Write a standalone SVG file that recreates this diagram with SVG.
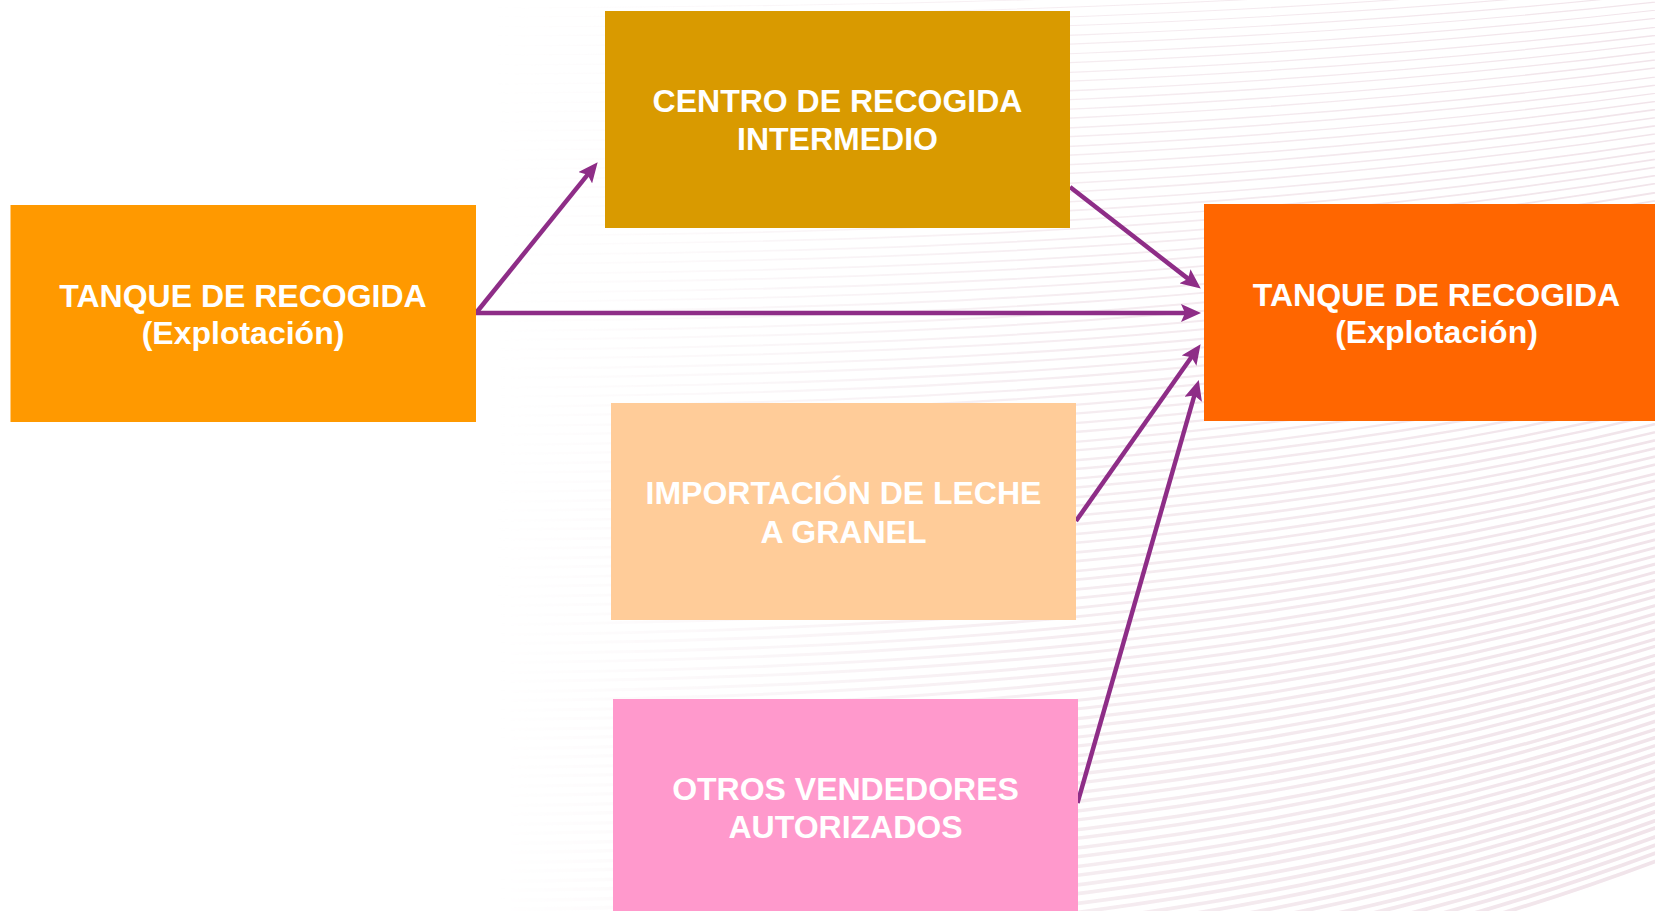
<svg xmlns="http://www.w3.org/2000/svg" xmlns:xlink="http://www.w3.org/1999/xlink" width="1655" height="911" viewBox="0 0 1655 911">
  <style>
    .box-text { font-family: "Liberation Sans", Arial, sans-serif; font-weight: bold; font-size: 32px; fill: #FFFFFF; text-anchor: middle; }
    .conn { stroke: #8E2D87; stroke-width: 4.5; fill: none; marker-end: url(#arrow); }
    .wave { fill: none; stroke: #f1e4ea; stroke-width: 2; vector-effect: non-scaling-stroke; }
  </style>
  <defs>
    <marker id="arrow" markerUnits="userSpaceOnUse" markerWidth="20" markerHeight="18" refX="7" refY="9" orient="auto">
      <path d="M0,0 L20,9 L0,18 L4,9 z" fill="#8E2D87"/>
    </marker>
    <linearGradient id="fade" x1="0" y1="0" x2="1" y2="0">
      <stop offset="0.3" stop-color="#fff" stop-opacity="0"/>
      <stop offset="0.65" stop-color="#fff" stop-opacity="0.7"/>
      <stop offset="1" stop-color="#fff" stop-opacity="1"/>
    </linearGradient>
    <mask id="fadeMask">
      <rect x="0" y="0" width="1655" height="911" fill="url(#fade)"/>
    </mask>
    <path id="w" d="M 400 0 C 900 0, 1300 -20, 1700 -100"/>
  </defs>

  <rect x="0" y="0" width="1655" height="911" fill="#FFFFFF"/>

  <g id="background" mask="url(#fadeMask)">
    <use xlink:href="#w" class="wave" transform="matrix(1,0,0,0.45,0,-40)"/>
    <use xlink:href="#w" class="wave" transform="matrix(1,0,0,0.46,0,-30)"/>
    <use xlink:href="#w" class="wave" transform="matrix(1,0,0,0.47,0,-21)"/>
    <use xlink:href="#w" class="wave" transform="matrix(1,0,0,0.49,0,-11)"/>
    <use xlink:href="#w" class="wave" transform="matrix(1,0,0,0.50,0,-2)"/>
    <use xlink:href="#w" class="wave" transform="matrix(1,0,0,0.51,0,8)"/>
    <use xlink:href="#w" class="wave" transform="matrix(1,0,0,0.52,0,17)"/>
    <use xlink:href="#w" class="wave" transform="matrix(1,0,0,0.54,0,27)"/>
    <use xlink:href="#w" class="wave" transform="matrix(1,0,0,0.55,0,36)"/>
    <use xlink:href="#w" class="wave" transform="matrix(1,0,0,0.57,0,46)"/>
    <use xlink:href="#w" class="wave" transform="matrix(1,0,0,0.58,0,55)"/>
    <use xlink:href="#w" class="wave" transform="matrix(1,0,0,0.60,0,65)"/>
    <use xlink:href="#w" class="wave" transform="matrix(1,0,0,0.61,0,74)"/>
    <use xlink:href="#w" class="wave" transform="matrix(1,0,0,0.62,0,84)"/>
    <use xlink:href="#w" class="wave" transform="matrix(1,0,0,0.63,0,93)"/>
    <use xlink:href="#w" class="wave" transform="matrix(1,0,0,0.65,0,103)"/>
    <use xlink:href="#w" class="wave" transform="matrix(1,0,0,0.66,0,112)"/>
    <use xlink:href="#w" class="wave" transform="matrix(1,0,0,0.68,0,122)"/>
    <use xlink:href="#w" class="wave" transform="matrix(1,0,0,0.69,0,131)"/>
    <use xlink:href="#w" class="wave" transform="matrix(1,0,0,0.70,0,141)"/>
    <use xlink:href="#w" class="wave" transform="matrix(1,0,0,0.71,0,150)"/>
    <use xlink:href="#w" class="wave" transform="matrix(1,0,0,0.73,0,160)"/>
    <use xlink:href="#w" class="wave" transform="matrix(1,0,0,0.74,0,169)"/>
    <use xlink:href="#w" class="wave" transform="matrix(1,0,0,0.76,0,179)"/>
    <use xlink:href="#w" class="wave" transform="matrix(1,0,0,0.77,0,188)"/>
    <use xlink:href="#w" class="wave" transform="matrix(1,0,0,0.79,0,198)"/>
    <use xlink:href="#w" class="wave" transform="matrix(1,0,0,0.80,0,207)"/>
    <use xlink:href="#w" class="wave" transform="matrix(1,0,0,0.81,0,217)"/>
    <use xlink:href="#w" class="wave" transform="matrix(1,0,0,0.82,0,226)"/>
    <use xlink:href="#w" class="wave" transform="matrix(1,0,0,0.84,0,236)"/>
    <use xlink:href="#w" class="wave" transform="matrix(1,0,0,0.85,0,245)"/>
    <use xlink:href="#w" class="wave" transform="matrix(1,0,0,0.87,0,255)"/>
    <use xlink:href="#w" class="wave" transform="matrix(1,0,0,0.88,0,264)"/>
    <use xlink:href="#w" class="wave" transform="matrix(1,0,0,0.89,0,274)"/>
    <use xlink:href="#w" class="wave" transform="matrix(1,0,0,0.90,0,283)"/>
    <use xlink:href="#w" class="wave" transform="matrix(1,0,0,0.92,0,293)"/>
    <use xlink:href="#w" class="wave" transform="matrix(1,0,0,0.93,0,302)"/>
    <use xlink:href="#w" class="wave" transform="matrix(1,0,0,0.95,0,312)"/>
    <use xlink:href="#w" class="wave" transform="matrix(1,0,0,0.96,0,321)"/>
    <use xlink:href="#w" class="wave" transform="matrix(1,0,0,0.97,0,331)"/>
    <use xlink:href="#w" class="wave" transform="matrix(1,0,0,0.99,0,340)"/>
    <use xlink:href="#w" class="wave" transform="matrix(1,0,0,1.00,0,350)"/>
    <use xlink:href="#w" class="wave" transform="matrix(1,0,0,1.01,0,359)"/>
    <use xlink:href="#w" class="wave" transform="matrix(1,0,0,1.03,0,369)"/>
    <use xlink:href="#w" class="wave" transform="matrix(1,0,0,1.04,0,378)"/>
    <use xlink:href="#w" class="wave" transform="matrix(1,0,0,1.06,0,388)"/>
    <use xlink:href="#w" class="wave" transform="matrix(1,0,0,1.07,0,397)"/>
    <use xlink:href="#w" class="wave" transform="matrix(1,0,0,1.08,0,407)"/>
    <use xlink:href="#w" class="wave" transform="matrix(1,0,0,1.09,0,416)"/>
    <use xlink:href="#w" class="wave" transform="matrix(1,0,0,1.11,0,426)"/>
    <use xlink:href="#w" class="wave" transform="matrix(1,0,0,1.12,0,435)"/>
    <use xlink:href="#w" class="wave" transform="matrix(1,0,0,1.14,0,445)"/>
    <use xlink:href="#w" class="wave" transform="matrix(1,0,0,1.15,0,454)"/>
    <use xlink:href="#w" class="wave" transform="matrix(1,0,0,1.16,0,464)"/>
    <use xlink:href="#w" class="wave" transform="matrix(1,0,0,1.18,0,473)"/>
    <use xlink:href="#w" class="wave" transform="matrix(1,0,0,1.19,0,483)"/>
    <use xlink:href="#w" class="wave" transform="matrix(1,0,0,1.20,0,492)"/>
    <use xlink:href="#w" class="wave" transform="matrix(1,0,0,1.22,0,502)"/>
    <use xlink:href="#w" class="wave" transform="matrix(1,0,0,1.23,0,511)"/>
    <use xlink:href="#w" class="wave" transform="matrix(1,0,0,1.24,0,521)"/>
    <use xlink:href="#w" class="wave" transform="matrix(1,0,0,1.26,0,530)"/>
    <use xlink:href="#w" class="wave" transform="matrix(1,0,0,1.27,0,540)"/>
    <use xlink:href="#w" class="wave" transform="matrix(1,0,0,1.28,0,549)"/>
    <use xlink:href="#w" class="wave" transform="matrix(1,0,0,1.30,0,559)"/>
    <use xlink:href="#w" class="wave" transform="matrix(1,0,0,1.31,0,568)"/>
    <use xlink:href="#w" class="wave" transform="matrix(1,0,0,1.33,0,578)"/>
    <use xlink:href="#w" class="wave" transform="matrix(1,0,0,1.34,0,587)"/>
    <use xlink:href="#w" class="wave" transform="matrix(1,0,0,1.35,0,597)"/>
    <use xlink:href="#w" class="wave" transform="matrix(1,0,0,1.37,0,606)"/>
    <use xlink:href="#w" class="wave" transform="matrix(1,0,0,1.38,0,616)"/>
    <use xlink:href="#w" class="wave" transform="matrix(1,0,0,1.39,0,625)"/>
    <use xlink:href="#w" class="wave" transform="matrix(1,0,0,1.41,0,635)"/>
    <use xlink:href="#w" class="wave" transform="matrix(1,0,0,1.42,0,644)"/>
    <use xlink:href="#w" class="wave" transform="matrix(1,0,0,1.43,0,654)"/>
    <use xlink:href="#w" class="wave" transform="matrix(1,0,0,1.45,0,663)"/>
    <use xlink:href="#w" class="wave" transform="matrix(1,0,0,1.46,0,673)"/>
    <use xlink:href="#w" class="wave" transform="matrix(1,0,0,1.47,0,682)"/>
    <use xlink:href="#w" class="wave" transform="matrix(1,0,0,1.49,0,692)"/>
    <use xlink:href="#w" class="wave" transform="matrix(1,0,0,1.50,0,701)"/>
    <use xlink:href="#w" class="wave" transform="matrix(1,0,0,1.52,0,711)"/>
    <use xlink:href="#w" class="wave" transform="matrix(1,0,0,1.53,0,720)"/>
    <use xlink:href="#w" class="wave" transform="matrix(1,0,0,1.54,0,730)"/>
    <use xlink:href="#w" class="wave" transform="matrix(1,0,0,1.56,0,739)"/>
    <use xlink:href="#w" class="wave" transform="matrix(1,0,0,1.57,0,749)"/>
    <use xlink:href="#w" class="wave" transform="matrix(1,0,0,1.58,0,758)"/>
    <use xlink:href="#w" class="wave" transform="matrix(1,0,0,1.60,0,768)"/>
    <use xlink:href="#w" class="wave" transform="matrix(1,0,0,1.61,0,777)"/>
    <use xlink:href="#w" class="wave" transform="matrix(1,0,0,1.62,0,787)"/>
    <use xlink:href="#w" class="wave" transform="matrix(1,0,0,1.64,0,796)"/>
    <use xlink:href="#w" class="wave" transform="matrix(1,0,0,1.65,0,806)"/>
    <use xlink:href="#w" class="wave" transform="matrix(1,0,0,1.66,0,815)"/>
    <use xlink:href="#w" class="wave" transform="matrix(1,0,0,1.68,0,825)"/>
    <use xlink:href="#w" class="wave" transform="matrix(1,0,0,1.69,0,834)"/>
    <use xlink:href="#w" class="wave" transform="matrix(1,0,0,1.71,0,844)"/>
    <use xlink:href="#w" class="wave" transform="matrix(1,0,0,1.72,0,853)"/>
    <use xlink:href="#w" class="wave" transform="matrix(1,0,0,1.73,0,863)"/>
    <use xlink:href="#w" class="wave" transform="matrix(1,0,0,1.75,0,872)"/>
    <use xlink:href="#w" class="wave" transform="matrix(1,0,0,1.76,0,882)"/>
    <use xlink:href="#w" class="wave" transform="matrix(1,0,0,1.77,0,891)"/>
    <use xlink:href="#w" class="wave" transform="matrix(1,0,0,1.79,0,901)"/>
    <use xlink:href="#w" class="wave" transform="matrix(1,0,0,1.80,0,910)"/>
    <use xlink:href="#w" class="wave" transform="matrix(1,0,0,1.82,0,920)"/>
    <use xlink:href="#w" class="wave" transform="matrix(1,0,0,1.83,0,929)"/>
    <use xlink:href="#w" class="wave" transform="matrix(1,0,0,1.84,0,939)"/>
    <use xlink:href="#w" class="wave" transform="matrix(1,0,0,1.85,0,948)"/>
    <use xlink:href="#w" class="wave" transform="matrix(1,0,0,1.87,0,958)"/>
    <use xlink:href="#w" class="wave" transform="matrix(1,0,0,1.88,0,967)"/>
    <use xlink:href="#w" class="wave" transform="matrix(1,0,0,1.90,0,977)"/>
    <use xlink:href="#w" class="wave" transform="matrix(1,0,0,1.91,0,986)"/>
    <use xlink:href="#w" class="wave" transform="matrix(1,0,0,1.92,0,996)"/>
    <use xlink:href="#w" class="wave" transform="matrix(1,0,0,1.94,0,1005)"/>
    <use xlink:href="#w" class="wave" transform="matrix(1,0,0,1.95,0,1015)"/>
    <use xlink:href="#w" class="wave" transform="matrix(1,0,0,1.96,0,1024)"/>
    <use xlink:href="#w" class="wave" transform="matrix(1,0,0,1.98,0,1034)"/>
    <use xlink:href="#w" class="wave" transform="matrix(1,0,0,1.99,0,1043)"/>
  </g>

  <g id="connectors">
    <line class="conn" x1="476" y1="313" x2="589.5" y2="172.3"/>
    <line class="conn" x1="476" y1="313" x2="1188" y2="313"/>
    <line class="conn" x1="1070" y1="187" x2="1190.5" y2="280.6"/>
    <line class="conn" x1="1076" y1="521" x2="1193.1" y2="354.8"/>
    <line class="conn" x1="1077.5" y1="803" x2="1195.2" y2="392.5"/>
  </g>

  <g id="tanque-origen">
    <rect x="10.5" y="205" width="465.5" height="217" fill="#FF9900"/>
    <text class="box-text" x="243" y="307">TANQUE DE RECOGIDA</text>
    <text class="box-text" x="243" y="344">(Explotación)</text>
  </g>

  <g id="centro-intermedio">
    <rect x="605" y="11" width="465" height="217" fill="#D99A00"/>
    <text class="box-text" x="837.5" y="112">CENTRO DE RECOGIDA</text>
    <text class="box-text" x="837.5" y="150">INTERMEDIO</text>
  </g>

  <g id="tanque-destino">
    <rect x="1204" y="204" width="465" height="217" fill="#FF6600"/>
    <text class="box-text" x="1436.5" y="306">TANQUE DE RECOGIDA</text>
    <text class="box-text" x="1436.5" y="343">(Explotación)</text>
  </g>

  <g id="importacion">
    <rect x="611" y="403" width="465" height="217" fill="#FFCC99"/>
    <text class="box-text" x="843.5" y="504">IMPORTACIÓN DE LECHE</text>
    <text class="box-text" x="843.5" y="543">A GRANEL</text>
  </g>

  <g id="otros-vendedores">
    <rect x="613" y="699" width="465" height="217" fill="#FF99CC"/>
    <text class="box-text" x="845.5" y="800">OTROS VENDEDORES</text>
    <text class="box-text" x="845.5" y="838">AUTORIZADOS</text>
  </g>
</svg>
